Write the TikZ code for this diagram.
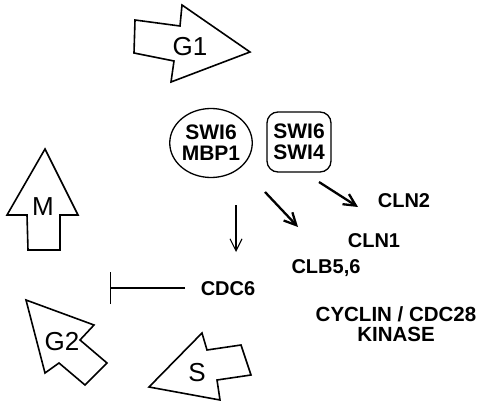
\documentclass[tikz,border=0pt]{standalone}
\usepackage{fontspec}
\setmainfont{Liberation Sans}
\usetikzlibrary{positioning}
\usetikzlibrary{arrows.meta}
\usetikzlibrary{shapes.geometric}
\tikzset{
  phase/.style={draw, line width=1.6pt, line join=miter, fill=white},
  phaselbl/.style={font=\fontsize{26}{26}\selectfont, inner sep=0pt},
  gene/.style={font=\bfseries\fontsize{20}{20}\selectfont, inner sep=1pt},
  cplx/.style={draw, line width=1.3pt, inner sep=0pt, align=center,
    font=\bfseries\fontsize{21}{21}\selectfont},
  act/.style={-{Straight Barb[length=12pt,width=12pt]}},
  inhib/.style={line width=1.1pt, -{Bar[width=32pt]}}
}
\begin{document}
\begin{tikzpicture}[x=1pt, y=-1pt]
    \useasboundingbox (0,0) rectangle (478,403);

    % cell cycle phases
    \draw[phase] (135,20) -- (180,26) -- (182,5) -- (250,52) -- (171,82) -- (174,61) -- (134,53) -- cycle;
    \node[phaselbl] (g1) at (190,47) {G1};

    \draw[phase] (45,149) -- (78,215) -- (60,215) -- (60,250) -- (28,250) -- (27,215) -- (7,215) -- cycle;
    \node[phaselbl] (m) at (43,207) {M};

    \draw[phase] (26,300) -- (94,325) -- (80,340) -- (107,363) -- (85,385) -- (59,363) -- (45,373) -- cycle;
    \node[phaselbl] (g2) at (62,342) {G2};

    \draw[phase] (149,387) -- (202,333) -- (207,350) -- (241,345) -- (251,375) -- (217,380) -- (220,400) -- cycle;
    \node[phaselbl] (s) at (197,373) {S};

    % transcription factors
    \node[cplx, ellipse, minimum width=77pt, minimum height=69pt] (sbf) at (211,143) {SWI6\\MBP1};
    \node[cplx, rounded corners=11pt, minimum width=64pt, minimum height=60pt] (mbf) at (299,142) {SWI6\\SWI4};

    % targets
    \node[gene] (cln2) at (404,201) {CLN2};
    \node[gene] (cln1) at (374,241) {CLN1};
    \node[gene] (clb) at (326,268) {CLB5,6};
    \node[gene] (cdc6) at (228,289) {CDC6};
    \node[gene, align=center, font=\bfseries\fontsize{20.5}{20}\selectfont] (cdk) at (396,324) {CYCLIN / CDC28\\KINASE};

    \coordinate (v0) at (236,205);
    \coordinate (v1) at (236,252);
    \coordinate (d0) at (265,192);
    \coordinate (d1) at (298,227);
    \coordinate (e0) at (319,182);
    \coordinate (e1) at (358,207);
    \coordinate (i0) at (185,288);
    \coordinate (i1) at (110,288);

    \draw[act, line width=1.1pt] (v0) -- (v1);
    \draw[act, line width=2.3pt] (d0) -- (d1);
    \draw[act, line width=2.3pt] (e0) -- (e1);
    \draw[inhib] (i0) -- (i1);
\end{tikzpicture}
\end{document}
